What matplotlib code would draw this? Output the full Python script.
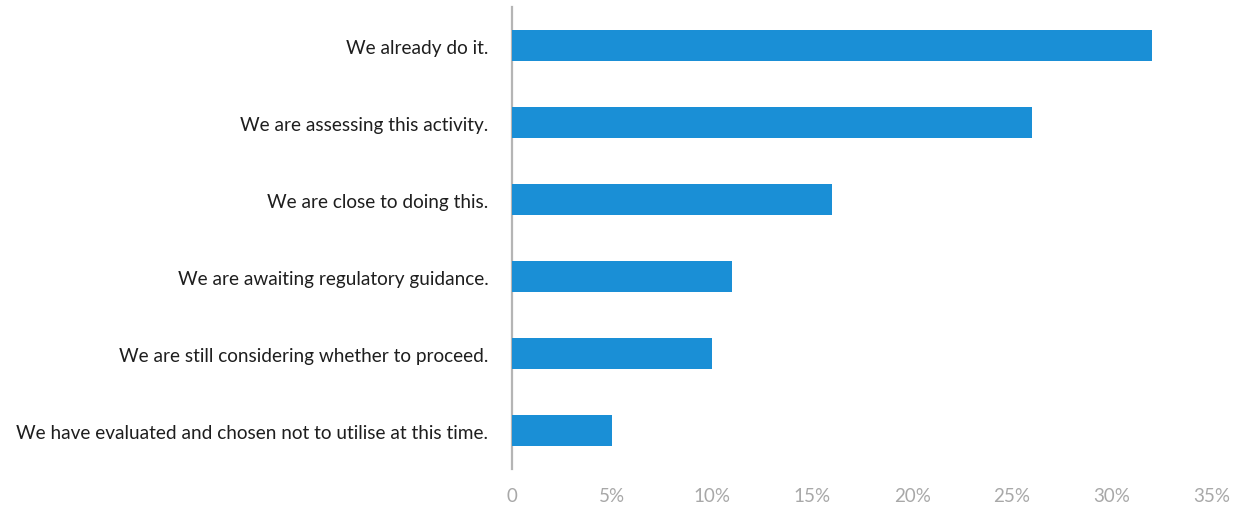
import matplotlib
matplotlib.use("Agg")
import matplotlib.pyplot as plt

# Survey responses (share of respondents, %)
categories = [
    "We already do it.",
    "We are assessing this activity.",
    "We are close to doing this.",
    "We are awaiting regulatory guidance.",
    "We are still considering whether to proceed.",
    "We have evaluated and chosen not to utilise at this time.",
]
shares = [32, 26, 16, 11, 10, 5]
x_ticks = [0, 5, 10, 15, 20, 25, 30, 35]
x_tick_labels = ["0", "5%", "10%", "15%", "20%", "25%", "30%", "35%"]

plt.rcParams["font.family"] = ["Lato", "DejaVu Sans"]

fig = plt.figure(figsize=(12.33, 5.10), dpi=100)
ax = fig.add_axes([0.4153, 0.0784, 0.5677, 0.9059])

positions = list(range(len(categories)))
ax.barh(positions, shares, height=0.41, color="#1a8fd6", zorder=3)

ax.set_ylim(len(categories) - 0.5, -0.5)
ax.set_xlim(0, 35)
ax.set_yticks(positions)
ax.set_yticklabels(categories, fontsize=13.7, color="#1e1e1e")
ax.set_xticks(x_ticks)
ax.set_xticklabels(x_tick_labels, fontsize=13.5, color="#a8a8a8")
ax.tick_params(axis="y", length=0, pad=17)
ax.tick_params(axis="x", length=0, pad=13)

for side in ("top", "right", "bottom"):
    ax.spines[side].set_visible(False)
ax.spines["left"].set_color("#b5b5b5")
ax.spines["left"].set_linewidth(1.6)

fig.savefig("out.png", dpi=100, facecolor="white")
